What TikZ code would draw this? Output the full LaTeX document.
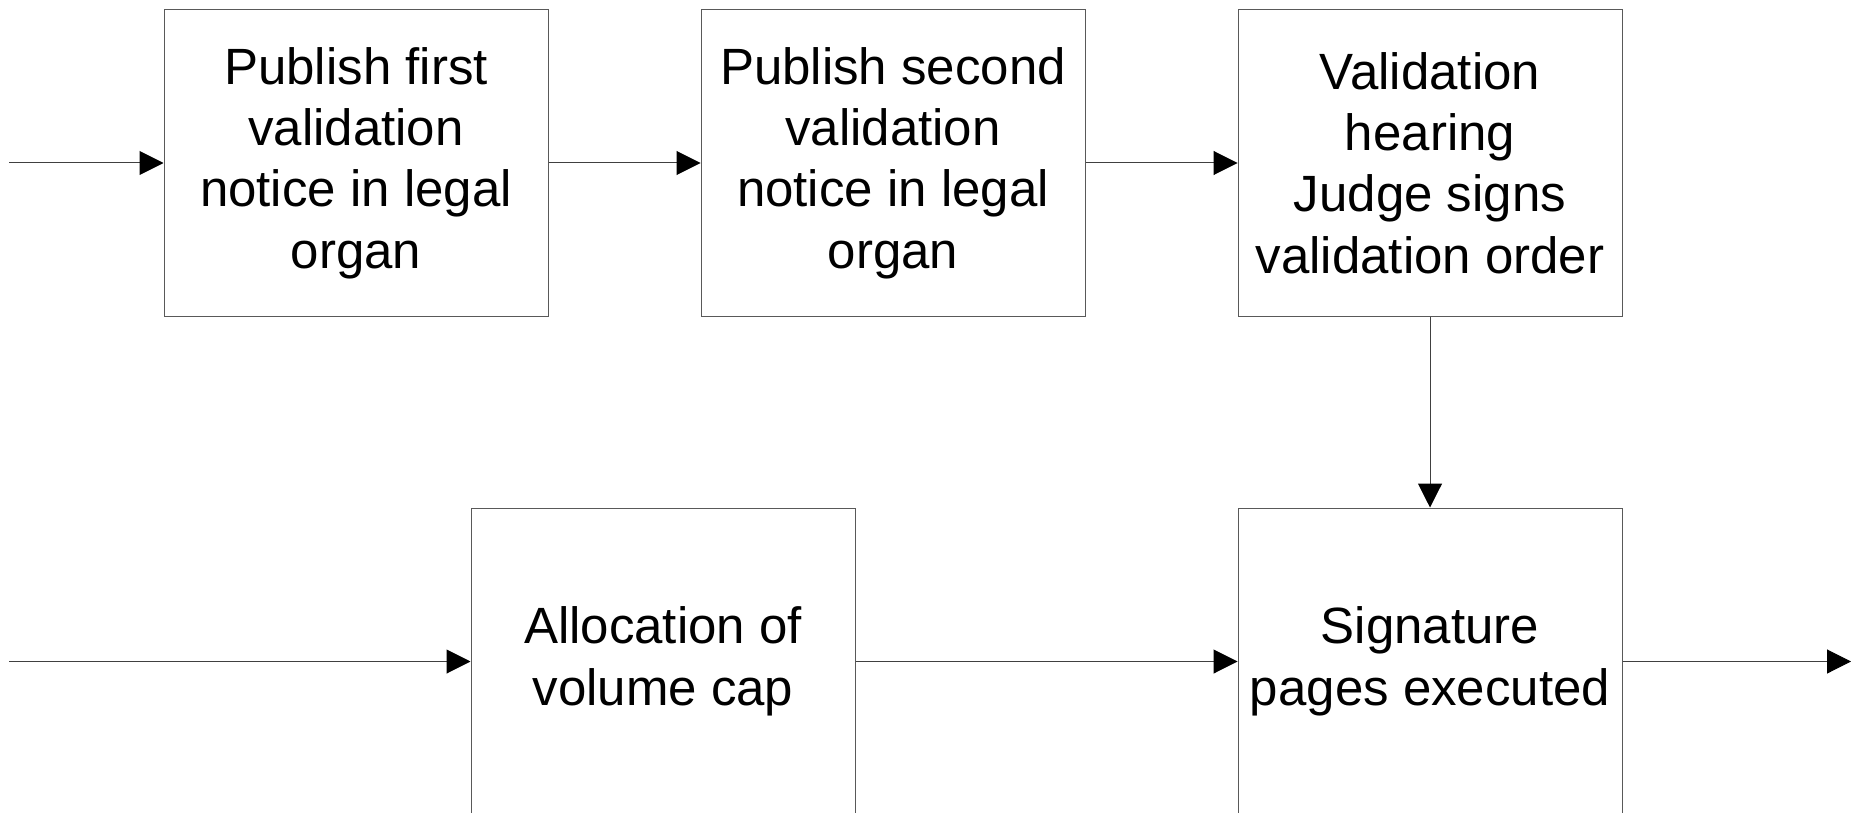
\documentclass[tikz,border=0pt]{standalone}
\usepackage{fontspec}
\setmainfont{Liberation Sans}
\usetikzlibrary{arrows.meta}
\begin{document}
\begin{tikzpicture}[x=1pt,y=-1pt,
  box/.style={draw=black!65,line width=1pt,minimum width=384pt,minimum height=307pt,inner sep=0pt,align=center,font=\fontsize{51}{61.4}\selectfont},
  conn/.style={draw=black!75,line width=1pt,-{Triangle[length=24pt,width=24pt,color=black]}}]
\useasboundingbox (0,0) rectangle (1851,813);
\node[box] (b1) at (356,163) {Publish first\\validation\\notice in legal\\organ};
\node[box] (b2) at (893,163) {Publish second\\validation\\notice in legal\\organ};
\node[box] (b3) at (1430,163) {Validation\\hearing\\Judge signs\\validation order};
\node[box] (b4) at (663,661.5) {Allocation of\\volume cap};
\node[box] (b5) at (1430,661.5) {Signature\\pages executed};
\coordinate (in1) at (9,163);
\coordinate (in2) at (9,661.5);
\coordinate (out) at (1851,661.5);
\draw[conn] (in1) -- (b1);
\draw[conn] (b1) -- (b2);
\draw[conn] (b2) -- (b3);
\draw[conn] (b3) -- (b5);
\draw[conn] (in2) -- (b4);
\draw[conn] (b4) -- (b5);
\draw[conn] (b5) -- (out);
\end{tikzpicture}
\end{document}
